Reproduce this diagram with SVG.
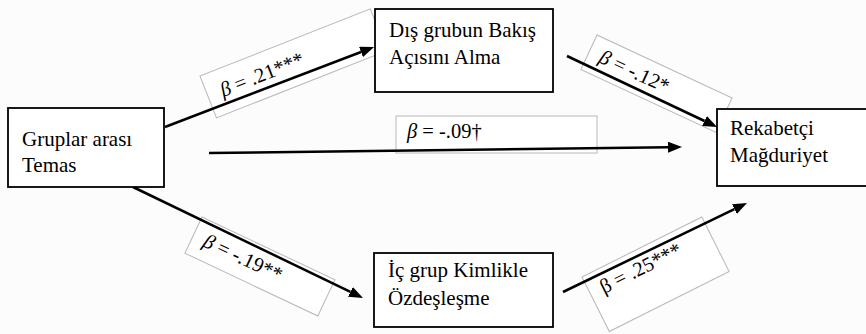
<svg xmlns="http://www.w3.org/2000/svg" width="866" height="334" viewBox="0 0 866 334">
<style>
.bg{fill:#fcfcfc}
.node rect{fill:#fff;stroke:#000;stroke-width:1.8}
.node text{font-family:'Liberation Serif','DejaVu Serif',serif;font-size:21px;fill:#000}
.lbl rect{fill:#fff;stroke:#b8b8b8;stroke-width:1}
.lbl text{font-family:'Liberation Serif','DejaVu Serif',serif;font-size:20.5px;fill:#000}
.edge{stroke:#000;stroke-width:2.5;fill:none;marker-end:url(#ah)}
.it{font-style:italic}
</style>
<defs>
<marker id="ah" markerUnits="userSpaceOnUse" markerWidth="14" markerHeight="11" refX="0" refY="5.5" orient="auto">
<path d="M0,0 L14,5.5 L0,11 z" fill="#000"/>
</marker>
</defs>
<rect class="bg" x="0" y="0" width="866" height="334"/>
<g id="edge-labels" class="lbl">
<g id="label-contact-perspective" transform="translate(200,76) rotate(-21.5)">
<rect x="0" y="0" width="183" height="45"/>
<text x="14" y="28" font-family="Liberation Serif, serif"><tspan class="it">β</tspan> = .21***</text>
</g>
<g id="label-perspective-victim" transform="translate(597,35) rotate(25)">
<rect x="0" y="0" width="149" height="38"/>
<text x="12" y="24" font-family="Liberation Serif, serif"><tspan class="it">β</tspan> = -.12*</text>
</g>
<g id="label-contact-victim">
<rect x="396" y="116" width="201" height="37"/>
<text x="407" y="138" font-family="Liberation Serif, serif"><tspan class="it">β</tspan> = -.09†</text>
</g>
<g id="label-contact-identification" transform="translate(202,217) rotate(25.3)">
<rect x="0" y="0" width="147" height="40"/>
<text x="12" y="26" font-family="Liberation Serif, serif"><tspan class="it">β</tspan> = -.19**</text>
</g>
<g id="label-identification-victim" transform="translate(582,277) rotate(-26.6)">
<rect x="0" y="0" width="134" height="61"/>
<text x="12" y="25" font-family="Liberation Serif, serif">β = .25***</text>
</g>
</g>
<g id="connectors">
<line class="edge" x1="165" y1="127" x2="361" y2="52"/>
<line class="edge" x1="567" y1="56" x2="704.5" y2="121"/>
<line class="edge" x1="209" y1="153" x2="668" y2="147.2"/>
<line class="edge" x1="133" y1="187" x2="350.4" y2="291.9"/>
<line class="edge" x1="563" y1="292" x2="734.4" y2="209.1"/>
</g>
<g id="node-contact" class="node">
<rect x="8" y="108" width="156" height="79"/>
<text x="22" y="146" font-family="Liberation Serif, serif">Gruplar arası</text>
<text x="22" y="172" font-family="Liberation Serif, serif">Temas</text>
</g>
<g id="node-perspective" class="node">
<rect x="375" y="9" width="178" height="83"/>
<text x="389" y="37" font-family="Liberation Serif, serif">Dış grubun Bakış</text>
<text x="389" y="64" font-family="Liberation Serif, serif">Açısını Alma</text>
</g>
<g id="node-victimhood" class="node">
<rect x="717" y="109" width="160" height="77"/>
<text x="730" y="135" font-family="Liberation Serif, serif">Rekabetçi</text>
<text x="730" y="162" font-family="Liberation Serif, serif">Mağduriyet</text>
</g>
<g id="node-identification" class="node">
<rect x="374" y="253" width="179" height="74"/>
<text x="388" y="277" font-family="Liberation Serif, serif">İç grup Kimlikle</text>
<text x="388" y="305" font-family="Liberation Serif, serif">Özdeşleşme</text>
</g>
</svg>
